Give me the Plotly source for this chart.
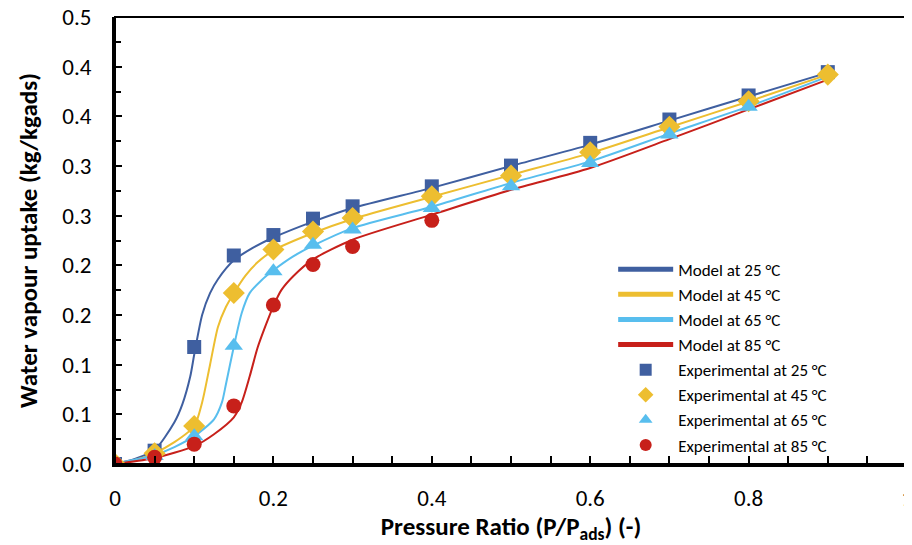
import plotly.graph_objects as go

# Experimental data
x_exp = [0, 0.05, 0.1, 0.15, 0.2, 0.25, 0.3, 0.4, 0.5, 0.6, 0.7, 0.8, 0.9]
exp25 = [0.0, 0.0134, 0.1178, 0.2099, 0.2305, 0.247, 0.2594, 0.2795, 0.3004, 0.3233, 0.3468, 0.371, 0.3945]
exp45 = [0.0, 0.0108, 0.0383, 0.1722, 0.216, 0.234, 0.2477, 0.2695, 0.2903, 0.3138, 0.3394, 0.3652, 0.392]
x_exp65 = [0, 0.05, 0.1, 0.15, 0.2, 0.25, 0.3, 0.4, 0.5, 0.6, 0.7, 0.8]
exp65 = [0.0, 0.008, 0.028, 0.119, 0.194, 0.2208, 0.236, 0.2578, 0.2795, 0.303, 0.3317, 0.3596]
x_exp85 = [0, 0.05, 0.1, 0.15, 0.2, 0.25, 0.3, 0.4]
exp85 = [0.0, 0.0067, 0.020, 0.0585, 0.160, 0.2008, 0.219, 0.2453]

# Model curves
xm25 = [0, 0.025, 0.05, 0.075, 0.085, 0.095, 0.1, 0.11, 0.12, 0.13, 0.15, 0.175, 0.2, 0.25, 0.3, 0.4, 0.5, 0.6, 0.7, 0.8, 0.9]
ym25 = [0, 0.005, 0.014, 0.042, 0.06, 0.088, 0.11, 0.150, 0.172, 0.186, 0.205, 0.218, 0.228, 0.244, 0.2577, 0.278, 0.300, 0.3215, 0.3457, 0.370, 0.394]
xm45 = [0, 0.025, 0.05, 0.075, 0.1, 0.11, 0.12, 0.13, 0.14, 0.15, 0.165, 0.18, 0.2, 0.25, 0.3, 0.4, 0.5, 0.6, 0.7, 0.8, 0.9]
ym45 = [0, 0.004, 0.011, 0.022, 0.038, 0.062, 0.100, 0.138, 0.158, 0.172, 0.190, 0.203, 0.215, 0.2325, 0.2467, 0.269, 0.291, 0.313, 0.339, 0.365, 0.392]
xm65 = [0, 0.05, 0.075, 0.1, 0.125, 0.135, 0.14, 0.15, 0.16, 0.17, 0.185, 0.2, 0.225, 0.25, 0.3, 0.4, 0.5, 0.6, 0.7, 0.8, 0.9]
ym65 = [0, 0.009, 0.017, 0.028, 0.045, 0.062, 0.080, 0.118, 0.152, 0.172, 0.185, 0.195, 0.209, 0.2198, 0.2375, 0.259, 0.283, 0.3047, 0.3326, 0.360, 0.390]
xm85 = [0, 0.05, 0.1, 0.125, 0.15, 0.16, 0.17, 0.18, 0.19, 0.2, 0.21, 0.225, 0.25, 0.3, 0.4, 0.5, 0.6, 0.7, 0.8, 0.9]
ym85 = [0, 0.006, 0.018, 0.030, 0.047, 0.062, 0.088, 0.117, 0.139, 0.159, 0.175, 0.189, 0.206, 0.2258, 0.251, 0.276, 0.298, 0.327, 0.357, 0.387]

y_tickvals = [0, 0.05, 0.1, 0.15, 0.2, 0.25, 0.3, 0.35, 0.4, 0.45]
y_ticktext = ["0.0", "0.1", "0.1", "0.2", "0.2", "0.3", "0.3", "0.4", "0.4", "0.5"]
x_tickvals = [0, 0.2, 0.4, 0.6, 0.8, 1.0]
x_ticktext = ["0", "0.2", "0.4", "0.6", "0.8", "1"]

c25, c45, c65, c85 = "#3F5FA0", "#EDBE30", "#58BEEE", "#C7201A"
FONT = "Carlito, Lato, 'Open Sans', sans-serif"

fig = go.Figure()
for xs, ys, c, t in [(xm25, ym25, c25, "25"), (xm45, ym45, c45, "45"),
                     (xm65, ym65, c65, "65"), (xm85, ym85, c85, "85")]:
    fig.add_trace(go.Scatter(x=xs, y=ys, mode="lines", name=f"Model at {t} °C",
                             line=dict(color=c, width=2, shape="spline", smoothing=0.7)))

for xs, ys, c, sym, sz, t in [(x_exp, exp25, c25, "square", 14, "25"),
                              (x_exp, exp45, c45, "diamond", 17, "45"),
                              (x_exp65, exp65, c65, "triangle-up", 16, "65"),
                              (x_exp85, exp85, c85, "circle", 15, "85")]:
    fig.add_trace(go.Scatter(x=xs, y=ys, mode="markers", name=f"Experimental at {t} °C",
                             marker=dict(color=c, symbol=sym, size=sz, line=dict(width=0))))

# page body has an 8px margin, so the figure is sized/offset to compensate
fig.update_layout(
    width=905, height=537,
    margin=dict(l=107, r=6, t=9, b=81),
    paper_bgcolor="white", plot_bgcolor="white",
    font=dict(family=FONT, size=22, color="black"),
    legend=dict(x=0.629, y=0.475, xanchor="left", yanchor="top",
                font=dict(family=FONT, size=17), bgcolor="rgba(0,0,0,0)",
                tracegroupgap=0, itemwidth=55, itemsizing="constant"),
    showlegend=True,
)
fig.update_xaxes(
    range=[0, 1], tickvals=x_tickvals, ticktext=x_ticktext,
    ticks="inside", ticklen=8, tickwidth=2, tickcolor="black",
    minor=dict(dtick=0.05, ticks="inside", ticklen=8, tickwidth=2, tickcolor="black", showgrid=False),
    showline=True, linewidth=3, linecolor="black", showgrid=False, zeroline=False,
    tickfont=dict(size=23), ticklabelstandoff=11, automargin=False, ticklabeloverflow="allow",
    title=dict(text="<b>Pressure Ratio (P/P<sub>ads</sub>) (-)</b>", font=dict(size=25), standoff=0),
)
fig.update_yaxes(
    range=[0, 0.45], tickvals=y_tickvals, ticktext=y_ticktext,
    ticks="inside", ticklen=7, tickwidth=2, tickcolor="black",
    minor=dict(tickvals=[0.025 + 0.05 * i for i in range(9)], ticks="inside", ticklen=6, tickwidth=2, tickcolor="black", showgrid=False),
    showline=True, linewidth=3, linecolor="black", showgrid=False, zeroline=False,
    tickfont=dict(size=23), ticklabelstandoff=16, automargin=False, ticklabeloverflow="allow",
    title=dict(text="<b>Water vapour uptake (kg/kgads)</b>", font=dict(size=25), standoff=18),
)
fig.add_shape(type="rect", xref="paper", yref="paper", x0=0, y0=0, x1=1, y1=1,
              line=dict(color="black", width=2), layer="above")

fig.write_html("out.html")
